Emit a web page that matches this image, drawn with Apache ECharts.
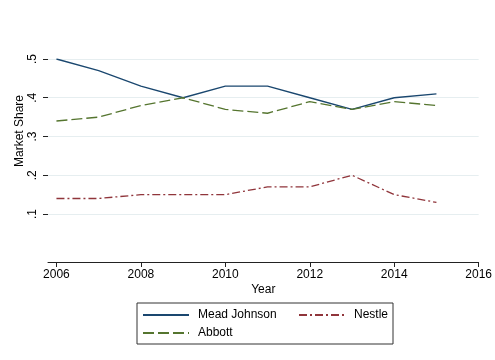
<!DOCTYPE html>
<html>
<head>
<meta charset="UTF-8">
<script src="https://cdn.jsdelivr.net/npm/echarts@6.0.0/dist/echarts.min.js"></script>
<style>
  body { margin: 0; background: #fff; }
  #main { width: 495px; height: 360px; }
</style>
</head>
<body>
<div id="main"></div>
<script>
// data
var years = [2006, 2007, 2008, 2009, 2010, 2011, 2012, 2013, 2014, 2015];
var meadJohnson = [0.50, 0.47, 0.43, 0.40, 0.43, 0.43, 0.40, 0.37, 0.40, 0.41];
var nestle = [0.14, 0.14, 0.15, 0.15, 0.15, 0.17, 0.17, 0.20, 0.15, 0.13];
var abbott = [0.34, 0.35, 0.38, 0.40, 0.37, 0.36, 0.39, 0.37, 0.39, 0.38];
var xTicks = [2006, 2008, 2010, 2012, 2014, 2016];
var yTickLabels = ['.1', '.2', '.3', '.4', '.5'];

function pairs(vals) {
    return years.map(function (y, i) { return [y, vals[i]]; });
}

var font = 'Liberation Sans, Arial, sans-serif';
var chart = echarts.init(document.getElementById('main'));

var option = {
    animation: false,
    backgroundColor: '#fff',
    textStyle: { fontFamily: font, color: '#000' },
    grid: { left: 48, right: 12, top: 59, bottom: 146 },
    xAxis: {
        type: 'value',
        min: 2005.8,
        max: 2016,
        offset: 48,
        name: 'Year',
        nameLocation: 'middle',
        nameGap: 22,
        nameTextStyle: { fontSize: 12, color: '#000', fontFamily: font },
        axisLine: { lineStyle: { color: '#222', width: 1 } },
        axisTick: { show: true, length: 5, customValues: xTicks, lineStyle: { color: '#222' } },
        axisLabel: {
            customValues: xTicks, fontSize: 12, color: '#000', margin: 7, fontFamily: font,
            formatter: function (v) { return String(v); }
        },
        splitLine: { show: false }
    },
    yAxis: {
        type: 'value',
        min: 0.1,
        max: 0.5,
        interval: 0.1,
        axisLine: { show: false },
        axisTick: { show: true, length: 5, lineStyle: { color: '#222' } },
        axisLabel: {
            rotate: 90,
            fontSize: 12,
            color: '#000',
            margin: 9,
            fontFamily: font,
            formatter: function (v) { return yTickLabels[Math.round(v * 10) - 1]; }
        },
        splitLine: { lineStyle: { color: '#e6eef0', width: 1 } }
    },
    legend: {
        left: 137,
        top: 303,
        width: 250,
        orient: 'horizontal',
        padding: [5, 5, 4, 5],
        itemGap: 4,
        itemWidth: 46,
        itemHeight: 14,
        borderColor: '#333',
        borderWidth: 1,
        backgroundColor: '#fff',
        itemStyle: { opacity: 0 },
        textStyle: { fontSize: 12, color: '#000', fontFamily: font, padding: [0, 0, 0, 4], lineHeight: 14 },
        data: [
            { name: 'Mead Johnson', textStyle: { width: 96 } },
            'Nestle',
            'Abbott'
        ]
    },
    graphic: [{
        type: 'text',
        x: 20,
        y: 131,
        rotation: Math.PI / 2,
        style: {
            text: 'Market Share',
            font: '12px ' + font,
            fill: '#000',
            align: 'center',
            verticalAlign: 'middle'
        }
    }],
    series: [
        {
            name: 'Mead Johnson',
            type: 'line',
            symbol: 'none',
            color: '#1a476f',
            lineStyle: { color: '#1a476f', width: 1.3 },
            data: pairs(meadJohnson)
        },
        {
            name: 'Nestle',
            type: 'line',
            symbol: 'none',
            color: '#90353b',
            lineStyle: { color: '#90353b', width: 1.3, type: [8, 3, 2, 3] },
            data: pairs(nestle)
        },
        {
            name: 'Abbott',
            type: 'line',
            symbol: 'none',
            color: '#55752f',
            lineStyle: { color: '#55752f', width: 1.3, type: [11, 4] },
            data: pairs(abbott)
        }
    ]
};

chart.setOption(option);
</script>
</body>
</html>
